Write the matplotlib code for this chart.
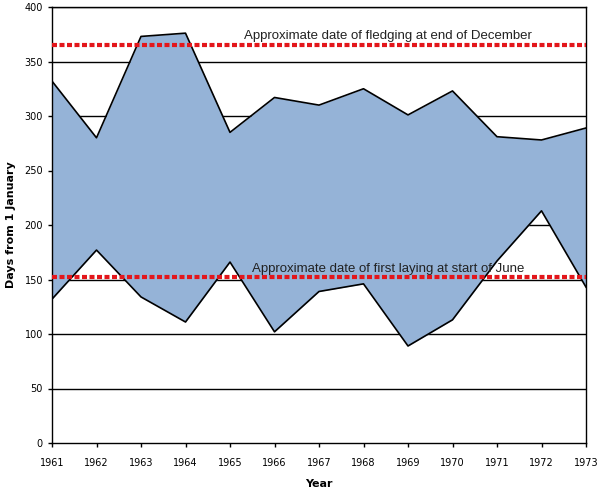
import matplotlib
matplotlib.use("Agg")
import matplotlib.pyplot as plt

years = [1961, 1962, 1963, 1964, 1965, 1966, 1967, 1968, 1969, 1970, 1971, 1972, 1973]
upper = [332, 280, 373, 376, 285, 317, 310, 325, 301, 323, 281, 278, 289]
lower = [132, 177, 134, 111, 166, 102, 139, 146, 89, 113, 167, 213, 143]
fledging_day = 365
laying_day = 152
fledging_text = "Approximate date of fledging at end of December"
laying_text = "Approximate date of first laying at start of June"

fig = plt.figure(figsize=(6.01, 4.93), dpi=100)
ax = fig.add_axes([52/601, 1-443/493, (586-52)/601, (443-7)/493])

for y in range(50, 401, 50):
    ax.axhline(y, color="black", lw=1.0, zorder=1)

ax.fill_between(years, lower, upper, color="#95B3D7", zorder=2, lw=0)
ax.plot(years, upper, color="black", lw=1.2, zorder=3)
ax.plot(years, lower, color="black", lw=1.2, zorder=3)

for d in (fledging_day, laying_day):
    ax.plot([years[0], years[-1]], [d, d], color="#E3161B", lw=3, dashes=(1.2, 0.6), zorder=4)

ax.text(1968.55, 373, fledging_text, ha="center", va="center", fontsize=9.5,
        family="Liberation Sans", color="#222222", zorder=5)
ax.text(1968.55, 160, laying_text, ha="center", va="center", fontsize=9.5,
        family="Liberation Sans", color="#222222", zorder=5)

ax.set_xlim(years[0], years[-1])
ax.set_ylim(0, 400)
ax.set_xticks(years)
ax.set_xticklabels([str(y) for y in years])
ax.set_yticks(range(0, 401, 50))
ax.tick_params(axis="both", labelsize=7, direction="out", length=3, width=1, colors="black")
ax.tick_params(axis="x", pad=8)
for s in ax.spines.values():
    s.set_linewidth(1.0)
    s.set_color("black")
ax.set_xlabel("Year", fontsize=8, fontweight="bold", labelpad=8)
ax.set_ylabel("Days from 1 January", fontsize=8, fontweight="bold", labelpad=6)

fig.savefig("out.png", dpi=100)
